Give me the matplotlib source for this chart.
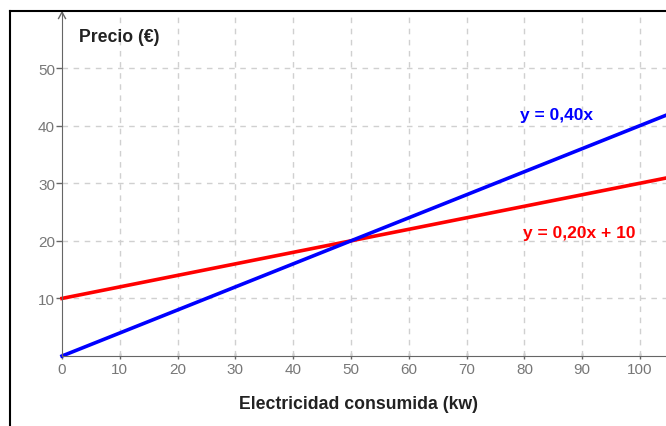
import matplotlib.pyplot as plt
from matplotlib.lines import Line2D

plt.rcParams['font.family'] = ['Liberation Sans', 'DejaVu Sans']

# data
x_range = [0, 104.5]
slope_a, inter_a = 0.40, 0      # y = 0,40x
slope_b, inter_b = 0.20, 10     # y = 0,20x + 10
x_ticks = [0, 10, 20, 30, 40, 50, 60, 70, 80, 90, 100]
y_ticks = [10, 20, 30, 40, 50]
label_a = "y = 0,40x"
label_b = "y = 0,20x + 10"

fig = plt.figure(figsize=(6.66, 4.27), dpi=100)
ax = fig.add_axes([10 / 666, 0, 656 / 666, 415 / 427])
ax.set_xlim(-9.0, 104.5)
ax.set_ylim(-12.15, 59.9)

# outer frame (left and top visible)
fig.add_artist(Line2D([10 / 666, 10 / 666], [0, 415 / 427], color='black', lw=1.5))
fig.add_artist(Line2D([10 / 666, 1], [415 / 427, 415 / 427], color='black', lw=1.5))

# axes through origin
for s in ['top', 'right']:
    ax.spines[s].set_visible(False)
ax.spines['left'].set_position(('data', 0))
ax.spines['bottom'].set_position(('data', 0))
ax.spines['left'].set_color('#666666')
ax.spines['bottom'].set_color('#666666')
ax.spines['left'].set_bounds(0, 59.9)
ax.spines['bottom'].set_bounds(0, 104.5)
ax.plot([-0.6, 0, 0.6], [58.6, 59.7, 58.6], color='#666666', lw=1, clip_on=False)

ax.set_xticks(x_ticks)
ax.set_yticks(y_ticks)
ax.tick_params(axis='both', colors='#666666', labelcolor='#777777', labelsize=11,
               length=4, width=1)
ax.tick_params(axis='x', direction='inout', pad=2)
ax.tick_params(axis='y', direction='out', pad=1)

# grid in first quadrant only
ax.vlines(x_ticks[1:], 0, 59.9, colors='#d0d0d0', linestyles=(0, (4, 4)), lw=1)
ax.hlines(y_ticks, 0, 104.5, colors='#d0d0d0', linestyles=(0, (4, 4)), lw=1)

# lines
ax.plot(x_range, [slope_b * v + inter_b for v in x_range], color='#ff0000', lw=2.6, clip_on=False)
ax.plot(x_range, [slope_a * v + inter_a for v in x_range], color='#0000ff', lw=2.6, clip_on=False)

ax.text(79.2, 42, label_a, color='#0000ff', fontsize=12.5, fontweight='bold', va='center')
ax.text(79.8, 21.4, label_b, color='#ff0000', fontsize=12.5, fontweight='bold', va='center')

ax.text(3.0, 55.4, "Precio (€)", fontsize=12.7, fontweight='bold', color='#222222', va='center')
ax.text(51.3, -8.3, "Electricidad consumida (kw)", fontsize=12.7, fontweight='bold',
        color='#222222', ha='center', va='center')

fig.savefig('out.png', dpi=100)
